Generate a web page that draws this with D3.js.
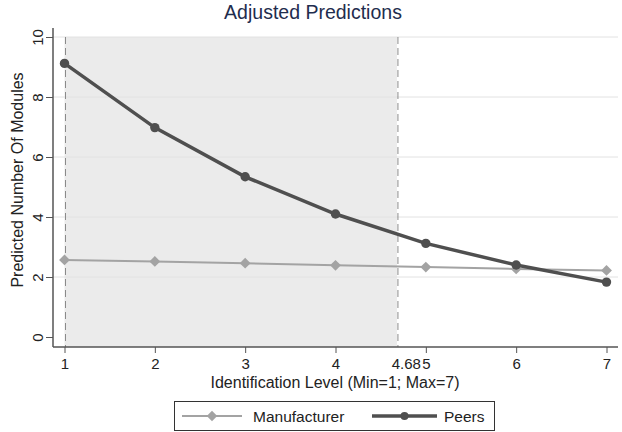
<!DOCTYPE html>
<html><head><meta charset="utf-8">
<script src="https://cdn.jsdelivr.net/npm/d3@7"></script>
<style>body{margin:0;background:#fff}svg{display:block}text{font-family:"Liberation Sans",Arial,sans-serif}</style>
</head><body>
<script>
const levels = [1,2,3,4,5,6,7];
const manufacturer = [2.57,2.52,2.46,2.39,2.33,2.27,2.22];
const peers = [9.12,6.98,5.34,4.10,3.12,2.40,1.83];
const yTicks = [0,2,4,6,8,10];
const xTicks = [1,2,3,4,5,6,7];
const rangeMin = 1, rangeMean = 4.68;
const title = "Adjusted Predictions";
const xTitle = "Identification Level (Min=1; Max=7)";
const yTitle = "Predicted Number Of Modules";
const seriesNames = ["Manufacturer","Peers"];

const W=622,H=432;
const svg=d3.select("body").append("svg").attr("width",W).attr("height",H);
const x=d3.scaleLinear().domain([1,7]).range([64.5,606.5]);
const y=d3.scaleLinear().domain([0,10]).range([337,37]);
const plotL=53, plotR=618, plotT=28, plotB=347;
const tickFont=15;

// shaded region
svg.append("rect").attr("x",x(rangeMin)).attr("y",y(10)).attr("width",x(rangeMean)-x(rangeMin)).attr("height",plotB-y(10)).attr("fill","#ebebeb");
// gridlines
svg.append("g").selectAll("line").data(yTicks.filter(d=>d>0)).join("line")
  .attr("x1",plotL).attr("x2",plotR).attr("y1",d=>y(d)).attr("y2",d=>y(d))
  .attr("stroke","#e2e2e2").attr("stroke-width",1);
// dashed lines
svg.append("g").selectAll("line").data([rangeMin,rangeMean]).join("line")
  .attr("x1",d=>x(d)+1).attr("x2",d=>x(d)+1).attr("y1",y(10)).attr("y2",plotB)
  .attr("stroke","#8a8a8a").attr("stroke-width",1).attr("stroke-dasharray","7,4");

// axes
const yAxis=svg.append("g").attr("transform",`translate(${plotL},0)`)
  .call(d3.axisLeft(y).tickValues(yTicks).tickSize(7).tickPadding(0).tickFormat(d3.format("d")));
yAxis.select(".domain").remove();
yAxis.append("line").attr("x1",0).attr("x2",0).attr("y1",plotT).attr("y2",plotB).attr("stroke","#555").attr("stroke-width",1.5);
yAxis.selectAll(".tick line").attr("stroke","#555");
yAxis.selectAll(".tick text").attr("transform","rotate(-90)").attr("x",0).attr("y",-10).attr("dy","0")
  .attr("text-anchor","middle").attr("font-size",tickFont).attr("fill","#222");

const xAxis=svg.append("g").attr("transform",`translate(0,${plotB})`)
  .call(d3.axisBottom(x).tickValues(xTicks).tickSize(6).tickFormat(d3.format("d")));
xAxis.select(".domain").remove();
xAxis.append("line").attr("x1",plotL).attr("x2",plotR).attr("y1",0).attr("y2",0).attr("stroke","#555").attr("stroke-width",1.5);
xAxis.selectAll(".tick line").attr("stroke","#555");
xAxis.selectAll(".tick text").attr("y",11).attr("dy","0.71em").attr("font-size",tickFont).attr("fill","#222");
// mean label sits just left of the next tick label
svg.append("text").attr("x",x(5)-5).attr("y",plotB+11).attr("dy","0.71em").attr("text-anchor","end")
  .attr("font-size",tickFont).attr("fill","#222").text(d3.format(".2f")(rangeMean));

// lines
const line=d3.line().x((d,i)=>x(levels[i])).y(d=>y(d));
svg.append("path").datum(manufacturer).attr("d",line).attr("fill","none").attr("stroke","#a3a3a3").attr("stroke-width",2);
svg.append("g").selectAll("path").data(manufacturer).join("path")
  .attr("d",d3.symbol(d3.symbolDiamond2,75)).attr("transform",(d,i)=>`translate(${x(levels[i])},${y(d)})`).attr("fill","#a3a3a3");
svg.append("path").datum(peers).attr("d",line).attr("fill","none").attr("stroke","#4f4f4f").attr("stroke-width",3.5);
svg.append("g").selectAll("circle").data(peers).join("circle")
  .attr("cx",(d,i)=>x(levels[i])).attr("cy",d=>y(d)).attr("r",4.7).attr("fill","#4f4f4f");

// titles
svg.append("text").attr("x",313).attr("y",19).attr("text-anchor","middle").attr("font-size",19.5).attr("fill","#1f2d4e").text(title);
svg.append("text").attr("x",335).attr("y",388).attr("text-anchor","middle").attr("font-size",16).attr("fill","#222").text(xTitle);
svg.append("text").attr("transform","translate(23,180) rotate(-90)").attr("text-anchor","middle").attr("font-size",16).attr("fill","#222").text(yTitle);

// legend
const lg=svg.append("g");
lg.append("rect").attr("x",174.5).attr("y",401.5).attr("width",320).attr("height",29).attr("fill","#fff").attr("stroke","#333").attr("stroke-width",1);
const items=[{name:seriesNames[0],x1:182,x2:242,c:"#a3a3a3",w:2,m:"d",tx:253},{name:seriesNames[1],x1:372,x2:437,c:"#4f4f4f",w:3.5,m:"c",tx:444}];
items.forEach(it=>{
  lg.append("line").attr("x1",it.x1).attr("x2",it.x2).attr("y1",416).attr("y2",416).attr("stroke",it.c).attr("stroke-width",it.w);
  const mx=(it.x1+it.x2)/2;
  if(it.m==="d") lg.append("path").attr("d",d3.symbol(d3.symbolDiamond2,70)).attr("transform",`translate(${mx},416)`).attr("fill",it.c);
  else lg.append("circle").attr("cx",mx).attr("cy",416).attr("r",4).attr("fill",it.c);
  lg.append("text").attr("x",it.tx).attr("y",421.5).attr("font-size",15.5).attr("fill","#222").text(it.name);
});
</script>
</body></html>
